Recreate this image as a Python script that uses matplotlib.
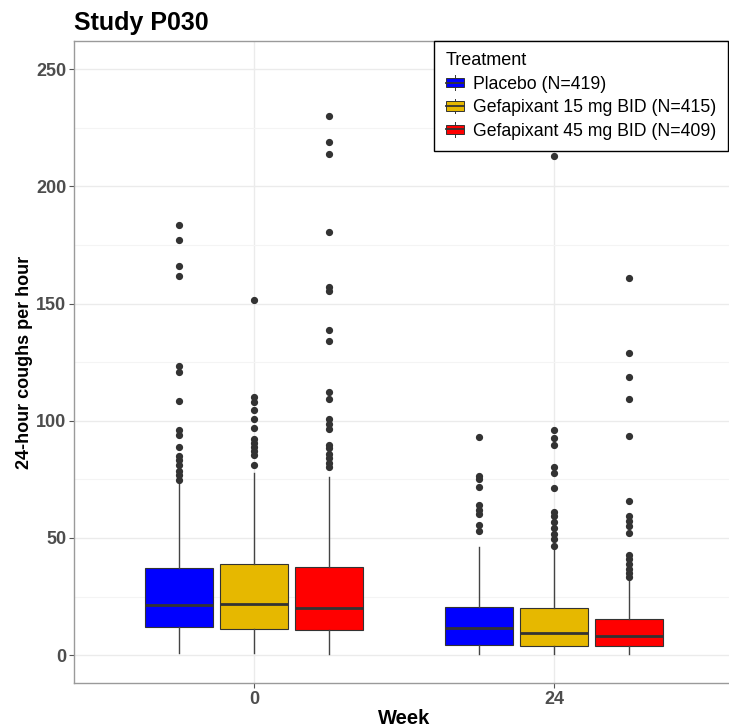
import matplotlib
matplotlib.use("Agg")
import matplotlib.pyplot as plt
from matplotlib.legend_handler import HandlerBase
from matplotlib.lines import Line2D
from matplotlib.patches import Patch, Rectangle
from matplotlib.ticker import MultipleLocator

plt.rcParams["font.family"] = ["Liberation Sans", "DejaVu Sans"]

weeks = ["0", "24"]
treatments = [
    "Placebo (N=419)",
    "Gefapixant 15 mg BID (N=415)",
    "Gefapixant 45 mg BID (N=409)",
]
colors = ["#0000FF", "#E6B800", "#FF0000"]

# box stats per week, order: placebo, 15 mg, 45 mg
q1 = [[11.8, 11.2, 10.7], [4.2, 3.9, 3.7]]
median = [[21.2, 22.0, 19.9], [11.4, 9.5, 8.1]]
q3 = [[37.0, 39.0, 37.5], [20.7, 20.3, 15.3]]
whisker_lo = [[1.0, 1.1, 0.4], [0.3, 0.3, 0.3]]
whisker_hi = [[73.2, 77.8, 75.8], [46.0, 45.3, 32.0]]

outliers_w0_placebo = [183.4, 176.9, 166.1, 161.8, 123.4, 120.9, 108.2, 96.0,
                       94.1, 88.6, 85.0, 83.2, 81.1, 78.5, 76.8, 74.9]
outliers_w0_15mg = [151.5, 110.2, 108.1, 104.5, 100.7, 97.0, 92.2, 90.6, 88.9,
                    87.2, 85.3, 80.9]
outliers_w0_45mg = [229.8, 219.0, 213.6, 180.6, 156.9, 155.4, 138.8, 133.8,
                    112.2, 109.4, 100.6, 98.5, 96.4, 89.6, 88.4, 86.0, 83.9,
                    81.8, 80.3]
outliers_w24_placebo = [93.1, 76.5, 75.1, 71.9, 64.0, 62.1, 60.4, 55.6, 52.9]
outliers_w24_15mg = [213.0, 96.2, 92.8, 89.7, 80.2, 77.7, 71.5, 61.1, 59.4,
                     56.8, 54.2, 51.7, 49.6, 46.7]
outliers_w24_45mg = [161.0, 128.9, 118.8, 109.4, 93.6, 65.9, 59.4, 57.2, 54.9,
                     52.2, 42.7, 41.0, 38.8, 36.9, 35.2, 33.4]
outliers = [
    [outliers_w0_placebo, outliers_w0_15mg, outliers_w0_45mg],
    [outliers_w24_placebo, outliers_w24_15mg, outliers_w24_45mg],
]

dark = "#333333"
fig = plt.figure(figsize=(7.29, 7.28), dpi=100)
ax = fig.add_axes([74 / 729, 45 / 728, 660 / 729, 642 / 728])

offsets = [-0.25, 0.0, 0.25]
for w in range(len(weeks)):
    for t in range(len(treatments)):
        stats = [{
            "q1": q1[w][t], "med": median[w][t], "q3": q3[w][t],
            "whislo": whisker_lo[w][t], "whishi": whisker_hi[w][t],
            "fliers": outliers[w][t],
        }]
        ax.bxp(
            stats,
            positions=[w + offsets[t]],
            widths=0.227,
            patch_artist=True,
            showcaps=False,
            boxprops=dict(facecolor=colors[t], edgecolor=dark, linewidth=0.8),
            medianprops=dict(color=dark, linewidth=2.0),
            whiskerprops=dict(color="#444444", linewidth=1.0),
            flierprops=dict(marker="o", markerfacecolor=dark, markeredgecolor=dark,
                            markersize=4.2),
            manage_ticks=False,
            zorder=3,
        )

ax.set_xlim(-0.6, 1.6)
ax.set_ylim(-11.9, 262)
ax.set_xticks([0, 1])
ax.set_xticklabels(weeks)
ax.yaxis.set_major_locator(MultipleLocator(50))
ax.yaxis.set_minor_locator(MultipleLocator(25))
ax.grid(which="major", color="#ebebeb", linewidth=1.0, zorder=0)
ax.grid(which="minor", axis="y", color="#f4f4f4", linewidth=0.8, zorder=0)
ax.set_axisbelow(True)
ax.tick_params(which="minor", length=0)
ax.tick_params(which="major", length=3.5, width=0.8, color="#555555",
               labelcolor="#4d4d4d", labelsize=13, pad=2)
for lab in ax.get_xticklabels() + ax.get_yticklabels():
    lab.set_fontweight("bold")
for s in ["left", "bottom", "top"]:
    ax.spines[s].set_color("#9a9a9a")
    ax.spines[s].set_linewidth(1.0)
ax.spines["right"].set_visible(False)

ax.set_xlabel("Week", fontsize=14.5, fontweight="bold", labelpad=1)
ax.set_ylabel("24-hour coughs per hour", fontsize=13, fontweight="bold",
              labelpad=2)
ax.set_title("Study P030", loc="left", fontsize=18, fontweight="bold", pad=8)


class BoxKeyHandler(HandlerBase):
    def create_artists(self, legend, orig_handle, xdescent, ydescent, width,
                       height, fontsize, trans):
        x0, y0 = -xdescent, -ydescent
        whisk = Line2D([x0 + width / 2] * 2, [y0 - height * 0.1, y0 + height * 1.1],
                       color=dark, lw=0.7, transform=trans)
        rect = Rectangle((x0, y0 + height * 0.12), width, height * 0.76,
                         facecolor=orig_handle.get_facecolor(), edgecolor=dark,
                         lw=0.7, transform=trans)
        med = Line2D([x0, x0 + width], [y0 + height / 2] * 2, color=dark,
                     lw=1.3, transform=trans)
        return [whisk, rect, med]


handles = [Patch(facecolor=c) for c in colors]
leg = ax.legend(
    handles, treatments, title="Treatment",
    loc="upper right", bbox_to_anchor=(654 / 660, 1.0), borderaxespad=0,
    handler_map={Patch: BoxKeyHandler()},
    fontsize=12.7, title_fontsize=13, alignment="left",
    handlelength=1.0, handleheight=0.7, handletextpad=0.55,
    labelspacing=0.36, borderpad=0.65, fancybox=False,
    framealpha=1, edgecolor="black",
)
leg.get_frame().set_linewidth(1.0)
leg.set_zorder(5)

fig.savefig("out.png", dpi=100)
